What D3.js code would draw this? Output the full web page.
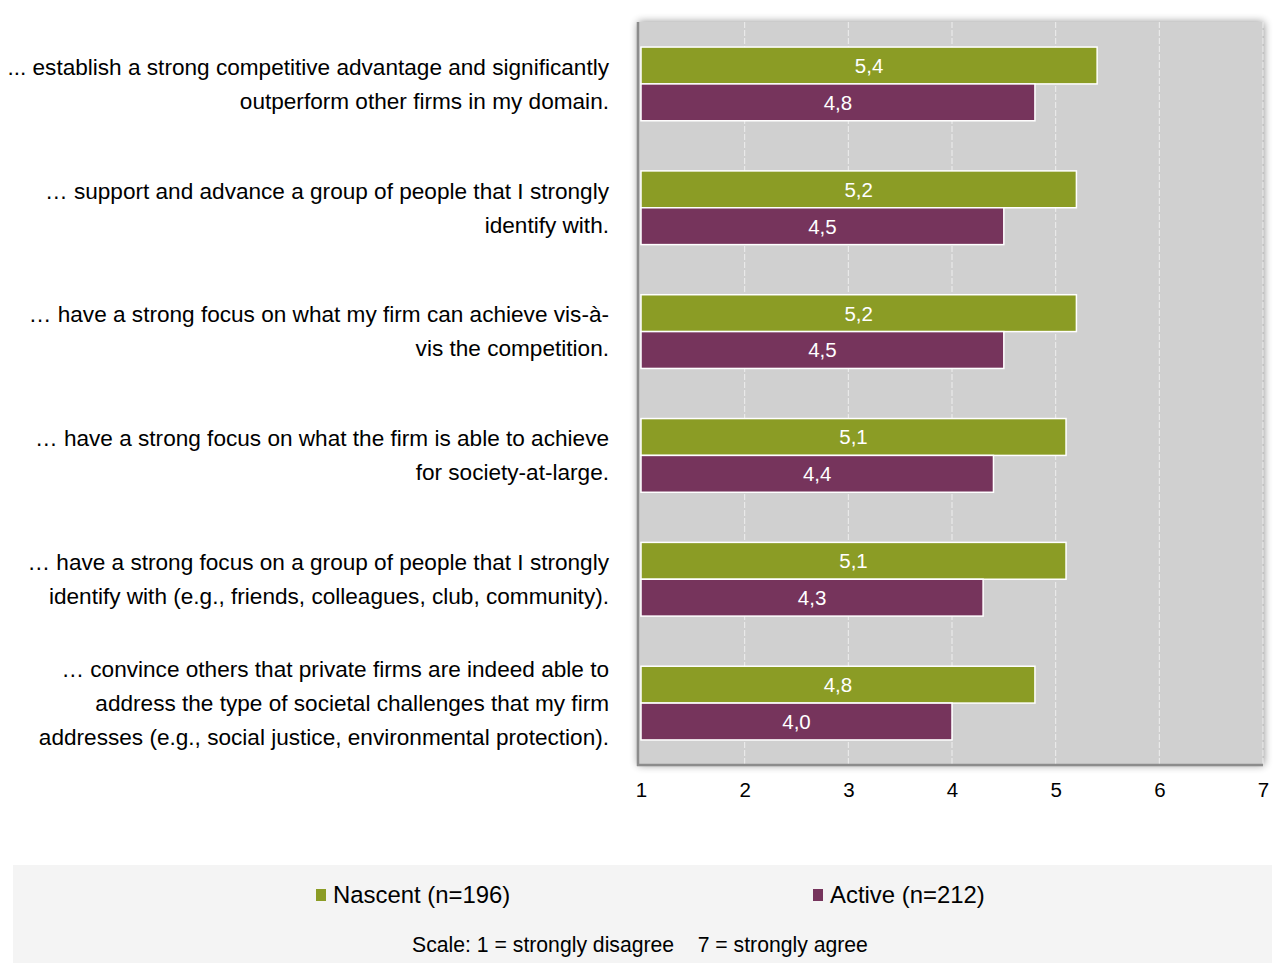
<!DOCTYPE html>
<html>
<head>
<meta charset="utf-8">
<script src="https://cdn.jsdelivr.net/npm/d3@7"></script>
<style>
  html, body { margin: 0; padding: 0; background: #ffffff; }
  svg { display: block; font-family: "Liberation Sans", Arial, sans-serif; }
</style>
</head>
<body>
<svg id="chart" width="1275" height="963"></svg>
<script>
// Statement labels (one entry per line of text)
const categories = [
  ["... establish a strong competitive advantage and significantly", "outperform other firms in my domain."],
  ["… support and advance a group of people that I strongly", "identify with."],
  ["… have a strong focus on what my firm can achieve vis-à-", "vis the competition."],
  ["… have a strong focus on what the firm is able to achieve", "for society-at-large."],
  ["… have a strong focus on a group of people that I strongly", "identify with (e.g., friends, colleagues, club, community)."],
  ["… convince others that private firms are indeed able to", "address the type of societal challenges that my firm", "addresses (e.g., social justice, environmental protection)."]
];
const nascentValues = [5.4, 5.2, 5.2, 5.1, 5.1, 4.8];
const activeValues = [4.8, 4.5, 4.5, 4.4, 4.3, 4.0];
const seriesNames = ["Nascent (n=196)", "Active (n=212)"];
const seriesColors = ["#8b9c25", "#76345c"];
const tickValues = [1, 2, 3, 4, 5, 6, 7];
const scaleNote = "Scale: 1 = strongly disagree    7 = strongly agree";

const svg = d3.select("#chart");
const plot = { left: 641, right: 1263, top: 22, bottom: 765 };

const x = d3.scaleLinear().domain([1, 7]).range([plot.left, plot.right]);
const y = d3.scaleBand().domain(d3.range(categories.length)).range([plot.top, plot.bottom]).paddingInner(0).paddingOuter(0);
const inner = d3.scaleBand().domain([0, 1]).range([0, y.bandwidth()]).paddingInner(0).paddingOuter(0.68);

// soft shadow behind the plot area
const defs = svg.append("defs");
const f = defs.append("filter").attr("id", "shadow").attr("x", "-5%").attr("y", "-5%").attr("width", "110%").attr("height", "110%");
f.append("feGaussianBlur").attr("in", "SourceAlpha").attr("stdDeviation", 4).attr("result", "b");
f.append("feOffset").attr("in", "b").attr("dx", 1).attr("dy", 0).attr("result", "o");
f.append("feComponentTransfer").attr("in", "o").attr("result", "s")
  .append("feFuncA").attr("type", "linear").attr("slope", 0.45);
const m = f.append("feMerge");
m.append("feMergeNode").attr("in", "s");
m.append("feMergeNode").attr("in", "SourceGraphic");

svg.append("rect")
  .attr("x", plot.left - 4).attr("y", plot.top)
  .attr("width", plot.right - plot.left + 4).attr("height", plot.bottom - plot.top)
  .attr("fill", "#d0d0d0")
  .attr("filter", "url(#shadow)");

// vertical gridlines
svg.append("g").selectAll("line").data(tickValues.slice(1)).join("line")
  .attr("x1", d => x(d)).attr("x2", d => x(d))
  .attr("y1", plot.top).attr("y2", plot.bottom)
  .attr("stroke", "#eeeeee").attr("stroke-width", 1)
  .attr("stroke-dasharray", "6,2");

// bars
const groups = svg.append("g").selectAll("g").data(categories).join("g")
  .attr("transform", (d, i) => `translate(0,${y(i)})`);

const seriesData = [nascentValues, activeValues];
groups.each(function (d, i) {
  const g = d3.select(this);
  seriesData.forEach((vals, s) => {
    g.append("rect")
      .attr("x", x(1)).attr("y", inner(s))
      .attr("width", x(vals[i]) - x(1)).attr("height", inner.bandwidth())
      .attr("fill", seriesColors[s])
      .attr("stroke", "#ffffff").attr("stroke-width", 1.5);
    g.append("text")
      .attr("x", (x(1) + x(vals[i])) / 2)
      .attr("y", inner(s) + inner.bandwidth() / 2)
      .attr("dy", "0.36em")
      .attr("text-anchor", "middle")
      .attr("fill", "#ffffff")
      .attr("font-size", 20.5)
      .text(d3.format(".1f")(vals[i]).replace(".", ","));
  });
});

// axis lines
svg.append("line").attr("x1", plot.left - 3).attr("x2", plot.left - 3)
  .attr("y1", plot.top).attr("y2", plot.bottom + 1)
  .attr("stroke", "#8c8c8c").attr("stroke-width", 2.5);
svg.append("line").attr("x1", plot.left - 4).attr("x2", plot.right)
  .attr("y1", plot.bottom).attr("y2", plot.bottom)
  .attr("stroke", "#8c8c8c").attr("stroke-width", 2.5);

// x tick labels
const xAxis = d3.axisBottom(x).tickValues(tickValues).tickSize(0).tickPadding(17).tickFormat(d3.format("d"));
const ax = svg.append("g").attr("transform", `translate(0,${plot.bottom})`).call(xAxis);
ax.select(".domain").remove();
ax.selectAll("text").attr("font-size", 20.5).attr("fill", "#000").attr("font-family", "Liberation Sans, Arial, sans-serif");

// category labels
const lineH = 34;
svg.append("g").selectAll("text").data(categories).join("text")
  .attr("text-anchor", "end")
  .attr("font-size", 22.6)
  .attr("fill", "#000")
  .each(function (lines, i) {
    const cy = y(i) + y.bandwidth() / 2;
    const y0 = cy - (lines.length - 1) * lineH / 2;
    d3.select(this).selectAll("tspan").data(lines).join("tspan")
      .attr("x", 609)
      .attr("y", (l, k) => y0 + k * lineH)
      .attr("dy", "0.35em")
      .text(l => l);
  });

// legend panel
svg.append("rect").attr("x", 13).attr("y", 865).attr("width", 1259).attr("height", 98).attr("fill", "#f4f4f4");
const legendX = [316, 813];
const leg = svg.append("g").selectAll("g").data(seriesNames).join("g")
  .attr("transform", (d, i) => `translate(${legendX[i]},895)`);
leg.append("rect").attr("x", 0).attr("y", -6).attr("width", 10).attr("height", 12)
  .attr("fill", (d, i) => seriesColors[i]);
leg.append("text").attr("x", 17).attr("dy", "0.35em").attr("font-size", 23.9).attr("fill", "#000").text(d => d);

svg.append("text").attr("x", 640).attr("y", 945).attr("dy", "0.35em")
  .attr("text-anchor", "middle").attr("font-size", 21.2).attr("fill", "#000")
  .attr("xml:space", "preserve").style("white-space", "pre")
  .text(scaleNote);
</script>
</body>
</html>
